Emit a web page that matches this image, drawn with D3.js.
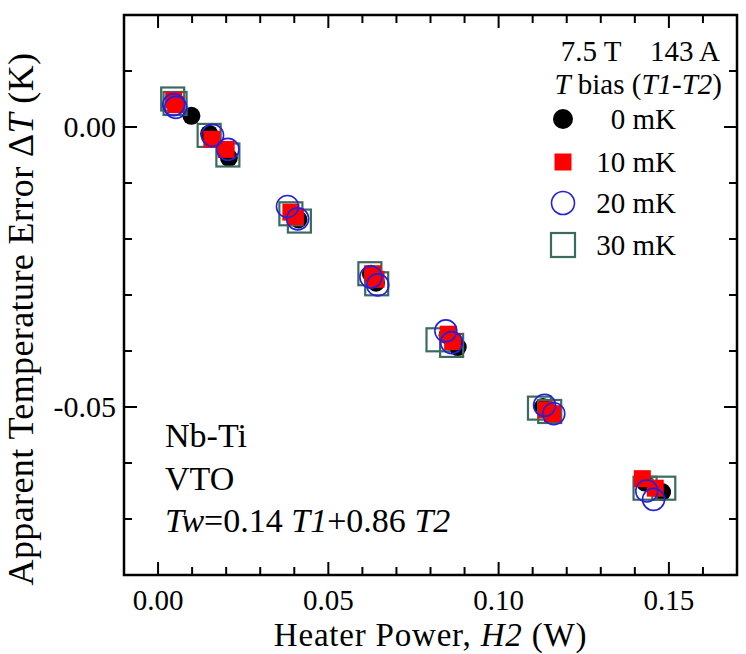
<!DOCTYPE html>
<html><head><meta charset="utf-8">
<script src="https://cdn.jsdelivr.net/npm/d3@7"></script>
<style>body{margin:0;background:#fff}text{font-family:"Liberation Serif","Times New Roman",serif;fill:#000}</style>
</head><body><svg id="c" width="746" height="654"></svg>
<script>
// Data: [H2 (W), dT (K)]
const series0 = [[0.0048,0.0047],[0.0098,0.0020],[0.0150,-0.0012],[0.0208,-0.0055],[0.0395,-0.0155],[0.0412,-0.0165],[0.0625,-0.0262],[0.0640,-0.0278],[0.0850,-0.0372],[0.0880,-0.0393],[0.1130,-0.0500],[0.1155,-0.0512],[0.1430,-0.0635],[0.1480,-0.0652]];
const series10 = [[0.0046,0.0048],[0.0052,0.0040],[0.0158,-0.0022],[0.0200,-0.0040],[0.0390,-0.0152],[0.0403,-0.0160],[0.0630,-0.0262],[0.0640,-0.0272],[0.0852,-0.0370],[0.0865,-0.0383],[0.1140,-0.0505],[0.1158,-0.0512],[0.1422,-0.0628],[0.1460,-0.0645]];
const series20 = [[0.0046,0.0040],[0.0052,0.0035],[0.0160,-0.0015],[0.0205,-0.0040],[0.0380,-0.0142],[0.0410,-0.0164],[0.0625,-0.0268],[0.0645,-0.0282],[0.0845,-0.0364],[0.0862,-0.0385],[0.1135,-0.0497],[0.1162,-0.0512],[0.1435,-0.0650],[0.1455,-0.0665]];
const series30 = [[0.0043,0.0050],[0.0050,0.0042],[0.0150,-0.0015],[0.0205,-0.0050],[0.0390,-0.0155],[0.0415,-0.0168],[0.0622,-0.0262],[0.0642,-0.0280],[0.0822,-0.0380],[0.0862,-0.0390],[0.1120,-0.0502],[0.1150,-0.0508],[0.1430,-0.0645],[0.1485,-0.0645]];
const legendLabels = ["0 mK","10 mK","20 mK","30 mK"];
const xTickValues = [0,0.05,0.10,0.15];
const yTickValues = [0,-0.05];
const xDomain = [-0.01,0.17];
const yDomain = [-0.08,0.02];

const svg = d3.select("#c");
const L=124,R=737,T=15,B=575;
const x = d3.scaleLinear().domain(xDomain).range([L,R]);
const y = d3.scaleLinear().domain(yDomain).range([B,T]);

// ticks
const minorX = d3.range(-0.01,0.1701,0.01).map(v=>+v.toFixed(3));
const minorY = d3.range(-0.08,0.0201,0.01).map(v=>+v.toFixed(3));
const isMajX = v=>xTickValues.some(t=>Math.abs(t-v)<1e-6);
const isMajY = v=>yTickValues.some(t=>Math.abs(t-v)<1e-6);
const tk = svg.append("g").attr("stroke","#000").attr("stroke-width",2);
minorX.forEach(v=>{ if(v<=xDomain[0]+1e-6||v>=xDomain[1]-1e-6) return; const len=isMajX(v)?13:8;
  tk.append("line").attr("x1",x(v)).attr("x2",x(v)).attr("y1",B).attr("y2",B-len);
  tk.append("line").attr("x1",x(v)).attr("x2",x(v)).attr("y1",T).attr("y2",T+len);});
minorY.forEach(v=>{ if(v<=yDomain[0]+1e-6||v>=yDomain[1]-1e-6) return; const len=isMajY(v)?13:8;
  tk.append("line").attr("y1",y(v)).attr("y2",y(v)).attr("x1",L).attr("x2",L+len);
  tk.append("line").attr("y1",y(v)).attr("y2",y(v)).attr("x1",R).attr("x2",R-len);});
svg.append("rect").attr("x",L).attr("y",T).attr("width",R-L).attr("height",B-T).attr("fill","none").attr("stroke","#000").attr("stroke-width",2.5);

// tick labels
xTickValues.forEach(v=>svg.append("text").attr("x",x(v)).attr("y",B+35).attr("text-anchor","middle").attr("font-size",29).text(d3.format(".2f")(v)));
yTickValues.forEach(v=>svg.append("text").attr("x",L-8).attr("y",y(v)+10).attr("text-anchor","end").attr("font-size",30).text(v===0?"0.00":d3.format(".2f")(v).replace("−","-")));

// axis titles
const xt = svg.append("text").attr("x",(L+R)/2).attr("y",646).attr("text-anchor","middle").attr("font-size",33).attr("letter-spacing",0.8);
xt.append("tspan").text("Heater Power, ");
xt.append("tspan").attr("font-style","italic").text("H2");
xt.append("tspan").text(" (W)");
const yt = svg.append("text").attr("transform",`translate(33,319) rotate(-90)`).attr("text-anchor","middle").attr("font-size",36).attr("letter-spacing",0.4);
yt.append("tspan").text("Apparent Temperature Error \u0394");
yt.append("tspan").attr("font-style","italic").text("T");
yt.append("tspan").text(" (K)");

// markers
const gBlack = svg.append("g");
gBlack.selectAll("circle").data(series0).join("circle").attr("cx",d=>x(d[0])).attr("cy",d=>y(d[1])).attr("r",9).attr("fill","#000");
const gTeal = svg.append("g");
gTeal.selectAll("rect").data(series30).join("rect").attr("x",d=>x(d[0])-11.5).attr("y",d=>y(d[1])-11.5).attr("width",23).attr("height",23).attr("fill","none").attr("stroke","#3b6b5f").attr("stroke-width",2.2);
const gRed = svg.append("g");
gRed.selectAll("rect").data(series10).join("rect").attr("x",d=>x(d[0])-8.5).attr("y",d=>y(d[1])-8.5).attr("width",17).attr("height",17).attr("fill","#ff0000");
const gBlue = svg.append("g");
gBlue.selectAll("circle").data(series20).join("circle").attr("cx",d=>x(d[0])).attr("cy",d=>y(d[1])).attr("r",11).attr("fill","none").attr("stroke","#2222dd").attr("stroke-width",1.6);

// legend
svg.append("text").attr("x",720).attr("y",61).attr("text-anchor","end").attr("font-size",29).attr("xml:space","preserve").text("7.5 T    143 A");
const t2 = svg.append("text").attr("x",722).attr("y",94).attr("text-anchor","end").attr("font-size",29);
t2.append("tspan").attr("font-style","italic").text("T");
t2.append("tspan").text(" bias (");
t2.append("tspan").attr("font-style","italic").text("T1-T2");
t2.append("tspan").text(")");
const legY = [119,162,203,245];
const lg = svg.append("g");
lg.append("circle").attr("cx",563).attr("cy",legY[0]).attr("r",10).attr("fill","#000");
lg.append("rect").attr("x",563-8.5).attr("y",legY[1]-8.5).attr("width",17).attr("height",17).attr("fill","#ff0000");
lg.append("circle").attr("cx",563).attr("cy",legY[2]).attr("r",11.5).attr("fill","none").attr("stroke","#2222dd").attr("stroke-width",1.6);
lg.append("rect").attr("x",563-12).attr("y",legY[3]-12).attr("width",24).attr("height",24).attr("fill","none").attr("stroke","#3b6b5f").attr("stroke-width",2.2);
legendLabels.forEach((s,i)=>lg.append("text").attr("x",676).attr("y",legY[i]+10).attr("text-anchor","end").attr("font-size",29).text(s));

// annotation
svg.append("text").attr("x",165).attr("y",447).attr("font-size",34).text("Nb-Ti");
svg.append("text").attr("x",165).attr("y",490).attr("font-size",34).text("VTO");
const tw = svg.append("text").attr("x",165).attr("y",532).attr("font-size",34);
tw.append("tspan").attr("font-style","italic").text("Tw");
tw.append("tspan").text("=0.14 ");
tw.append("tspan").attr("font-style","italic").text("T1");
tw.append("tspan").text("+0.86 ");
tw.append("tspan").attr("font-style","italic").text("T2");
</script></body></html>
